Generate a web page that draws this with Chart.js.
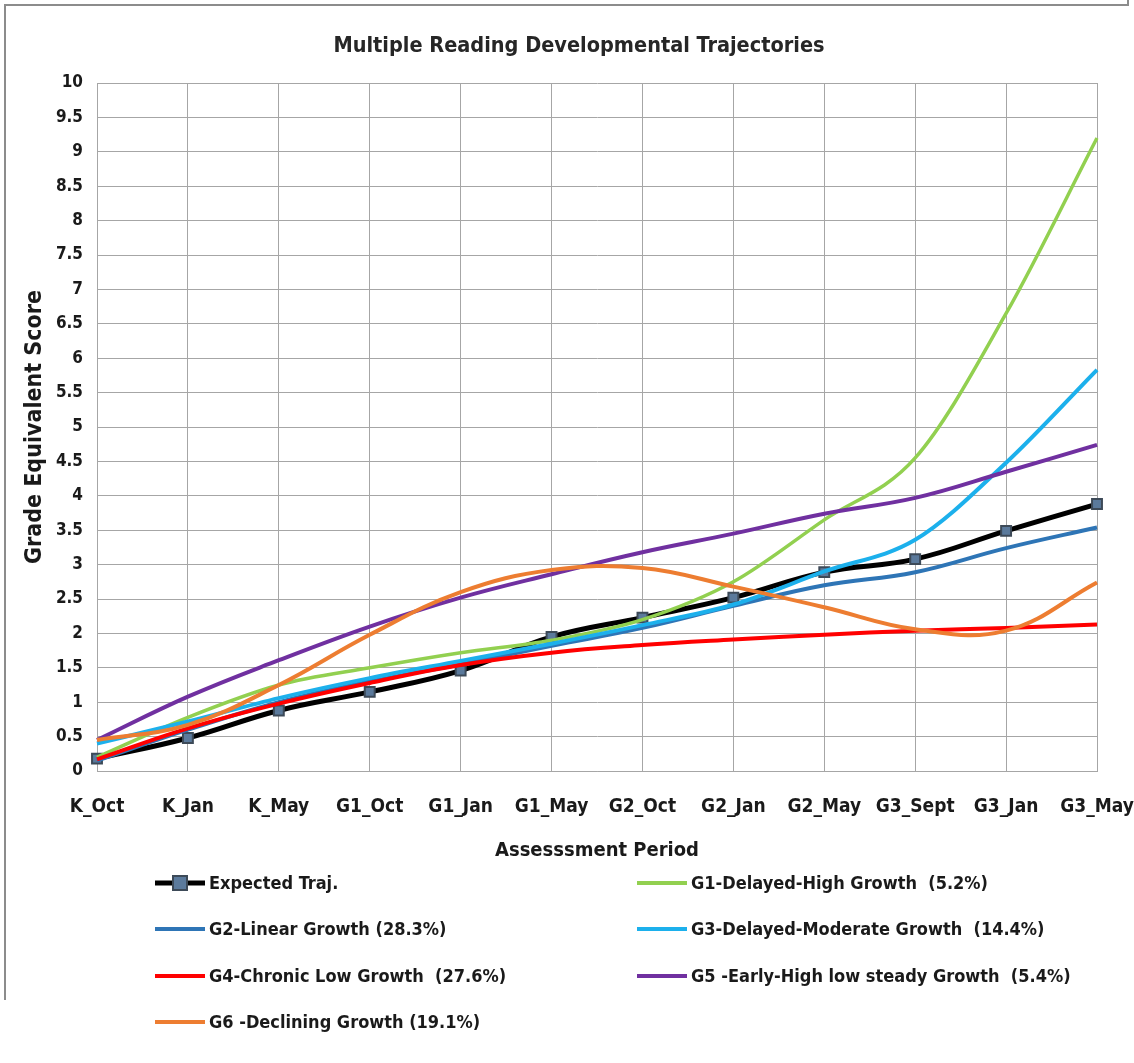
<!DOCTYPE html>
<html>
<head>
<meta charset="utf-8">
<script src="https://cdn.jsdelivr.net/npm/chart.js@4.4.1/dist/chart.umd.min.js"></script>
<style>
  html, body { margin: 0; padding: 0; background: #fff; }
  #wrap { position: relative; width: 1134px; height: 1063px; }
  canvas { display: block; }
</style>
</head>
<body>
<div id="wrap"><canvas id="c" width="1134" height="1063"></canvas></div>
<script>
const categories = ['K_Oct','K_Jan','K_May','G1_Oct','G1_Jan','G1_May','G2_Oct','G2_Jan','G2_May','G3_Sept','G3_Jan','G3_May'];
const seriesNames = [
  'Expected Traj.',
  'G1-Delayed-High Growth  (5.2%)',
  'G2-Linear Growth (28.3%)',
  'G3-Delayed-Moderate Growth  (14.4%)',
  'G4-Chronic Low Growth  (27.6%)',
  'G5 -Early-High low steady Growth  (5.4%)',
  'G6 -Declining Growth (19.1%)'
];
const expectedTraj = [0.18, 0.48, 0.88, 1.15, 1.46, 1.95, 2.23, 2.52, 2.89, 3.08, 3.49, 3.88];
const g1Values = [0.2, 0.78, 1.25, 1.5, 1.72, 1.9, 2.2, 2.75, 3.65, 4.55, 6.65, 9.2];
const g2Values = [0.15, 0.6, 1.0, 1.3, 1.55, 1.82, 2.08, 2.4, 2.7, 2.89, 3.24, 3.54];
const g3Values = [0.4, 0.72, 1.06, 1.35, 1.6, 1.85, 2.12, 2.42, 2.9, 3.36, 4.48, 5.83];
const g4Values = [0.17, 0.62, 0.98, 1.28, 1.54, 1.72, 1.83, 1.91, 1.98, 2.04, 2.08, 2.13];
const g5Values = [0.45, 1.08, 1.61, 2.1, 2.52, 2.86, 3.18, 3.45, 3.74, 3.97, 4.35, 4.74];
const g6Values = [0.45, 0.67, 1.25, 1.98, 2.6, 2.92, 2.95, 2.68, 2.38, 2.06, 2.04, 2.74];

const colors = ['#000000', '#92d050', '#2e75b6', '#1cb0ec', '#ff0000', '#7030a0', '#ed7d31'];
const allValues = [expectedTraj, g1Values, g2Values, g3Values, g4Values, g5Values, g6Values];
const legendCol = [0, 1, 0, 1, 0, 1, 0];
const legendRow = [0, 0, 1, 1, 2, 2, 3];

const FONT = "'Liberation Sans Narrow', 'DejaVu Sans Condensed', 'Liberation Sans', sans-serif";

const datasets = allValues.map((vals, i) => ({
  label: seriesNames[i],
  data: vals,
  borderColor: colors[i],
  backgroundColor: colors[i],
  borderWidth: i === 0 ? 5 : (i === 1 ? 3.5 : 4),
  tension: 0.4,
  cubicInterpolationMode: (i === 1 || i === 3) ? 'monotone' : 'default',
  pointRadius: i === 0 ? 7 : 0,
  pointStyle: 'rect',
  pointBackgroundColor: '#5b7a9c',
  pointBorderColor: '#3d4a58',
  pointBorderWidth: 2,
  order: 7 - i,
  fill: false
}));

const framePlugin = {
  id: 'frame',
  beforeDraw(chart) {
    const ctx = chart.ctx;
    ctx.save();
    ctx.fillStyle = '#fff';
    ctx.fillRect(0, 0, chart.width, chart.height);
    ctx.strokeStyle = '#8c8c8c';
    ctx.lineWidth = 2;
    ctx.beginPath();
    ctx.moveTo(5, 1000); ctx.lineTo(5, 5); ctx.lineTo(1128, 5); ctx.lineTo(1128, 0);
    ctx.stroke();
    ctx.restore();
  }
};

const legendPlugin = {
  id: 'customLegend',
  afterDraw(chart) {
    const ctx = chart.ctx;
    ctx.save();
    ctx.font = "bold 18px " + FONT;
    ctx.textBaseline = 'middle';
    ctx.textAlign = 'left';
    const colX = [155, 637];
    const rowY = [883, 929, 976, 1022];
    chart.data.datasets.forEach((ds, i) => {
      const x = colX[legendCol[i]], y = rowY[legendRow[i]];
      ctx.strokeStyle = ds.borderColor;
      ctx.lineWidth = i === 0 ? 5 : 4;
      ctx.beginPath();
      ctx.moveTo(x, y); ctx.lineTo(x + 50, y);
      ctx.stroke();
      if (i === 0) {
        ctx.fillStyle = '#5b7a9c';
        ctx.strokeStyle = '#3d4a58';
        ctx.lineWidth = 2;
        ctx.fillRect(x + 18, y - 7, 14, 14);
        ctx.strokeRect(x + 18, y - 7, 14, 14);
      }
      ctx.fillStyle = '#1a1a1a';
      ctx.fillText(ds.label, x + 54, y + 1);
    });
    ctx.restore();
  }
};

new Chart(document.getElementById('c'), {
  type: 'line',
  data: { labels: categories, datasets },
  plugins: [framePlugin, legendPlugin],
  options: {
    responsive: false,
    animation: false,
    layout: { padding: { left: 24, right: 0, top: 0, bottom: 200 } },
    plugins: {
      legend: { display: false },
      tooltip: { enabled: false },
      title: {
        display: true,
        text: 'Multiple Reading Developmental Trajectories',
        color: '#262626',
        font: { family: FONT, size: 21.5, weight: 'bold' },
        padding: { top: 34, bottom: 23.2 }
      }
    },
    scales: {
      x: {
        offset: false,
        grid: { color: '#a6a6a6', lineWidth: 1, drawTicks: false },
        border: { color: '#a6a6a6' },
        ticks: { color: '#1a1a1a', font: { family: FONT, size: 19, weight: 'bold' }, padding: 25, maxRotation: 0, autoSkip: false },
        title: { display: true, text: 'Assesssment Period', color: '#1a1a1a', font: { family: FONT, size: 20, weight: 'bold' }, padding: { top: 0, bottom: 0 } },
        afterFit(scale) { scale.height = 92; scale.paddingRight = 37; scale.paddingLeft = 0; }
      },
      y: {
        min: 0, max: 10,
        grid: { color: '#a6a6a6', lineWidth: 1, drawTicks: false },
        border: { color: '#a6a6a6' },
        ticks: {
          stepSize: 0.5,
          color: '#1a1a1a',
          font: { family: FONT, size: 17, weight: 'bold' },
          padding: 14,
          callback: v => String(Math.round(v * 10) / 10)
        },
        title: { display: true, text: 'Grade Equivalent Score', color: '#1a1a1a', font: { family: FONT, size: 23, weight: 'bold', lineHeight: 1 }, padding: { top: 0, bottom: 0 } },
        afterFit(scale) { scale.width = 73; }
      }
    }
  }
});
</script>
</body>
</html>
